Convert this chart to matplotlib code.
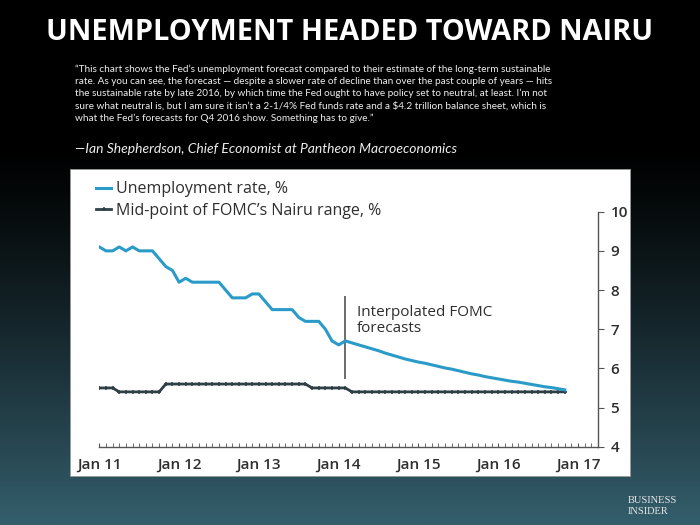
import numpy as np
import matplotlib
matplotlib.use("Agg")
import matplotlib.pyplot as plt
from matplotlib.patches import Rectangle

# monthly unemployment rate, Jan 2011 .. Jan 2014 actual, then interpolated FOMC path to Nov 2016
unemp = [9.1, 9.0, 9.0, 9.1, 9.0, 9.1, 9.0, 9.0, 9.0, 8.8, 8.6, 8.5,
         8.2, 8.3, 8.2, 8.2, 8.2, 8.2, 8.2, 8.0, 7.8, 7.8, 7.8, 7.9,
         7.9, 7.7, 7.5, 7.5, 7.5, 7.5, 7.3, 7.2, 7.2, 7.2, 7.0, 6.7,
         6.6, 6.70, 6.65, 6.60, 6.55, 6.50, 6.45, 6.39, 6.34, 6.29, 6.24, 6.20,
         6.16, 6.13, 6.09, 6.05, 6.01, 5.98, 5.94, 5.90, 5.86, 5.83, 5.79, 5.76,
         5.73, 5.70, 5.67, 5.65, 5.62, 5.59, 5.56, 5.53, 5.51, 5.48, 5.45]

# mid-point of FOMC's Nairu range, same months
nairu = [5.5, 5.5, 5.5, 5.4, 5.4, 5.4, 5.4, 5.4, 5.4, 5.4, 5.6, 5.6,
         5.6, 5.6, 5.6, 5.6, 5.6, 5.6, 5.6, 5.6, 5.6, 5.6, 5.6, 5.6,
         5.6, 5.6, 5.6, 5.6, 5.6, 5.6, 5.6, 5.6, 5.5, 5.5, 5.5, 5.5,
         5.5, 5.5, 5.4, 5.4, 5.4, 5.4, 5.4, 5.4, 5.4, 5.4, 5.4, 5.4,
         5.4, 5.4, 5.4, 5.4, 5.4, 5.4, 5.4, 5.4, 5.4, 5.4, 5.4, 5.4,
         5.4, 5.4, 5.4, 5.4, 5.4, 5.4, 5.4, 5.4, 5.4, 5.4, 5.4]

xlabels = ["Jan 11", "Jan 12", "Jan 13", "Jan 14", "Jan 15", "Jan 16", "Jan 17"]
forecast_start = 37  # Feb 14

quote = ("\u201cThis chart shows the Fed\u2019s unemployment forecast compared to their estimate of the long-term sustainable\n"
         "rate. As you can see, the forecast \u2014 despite a slower rate of decline than over the past couple of years \u2014 hits\n"
         "the sustainable rate by late 2016, by which time the Fed ought to have policy set to neutral, at least. I\u2019m not\n"
         "sure what neutral is, but I am sure it isn\u2019t a 2-1/4% Fed funds rate and a $4.2 trillion balance sheet, which is\n"
         "what the Fed\u2019s forecasts for Q4 2016 show. Something has to give.\u201d")
source = "\u2014Ian Shepherdson, Chief Economist at Pantheon Macroeconomics"

W, H = 700, 525
fig = plt.figure(figsize=(7, 5.25), dpi=100)

# slide background gradient
bg = fig.add_axes([0, 0, 1, 1])
t = np.linspace(0, 1, 256)
g = np.clip((t - 0.28) / 0.72, 0, 1) ** 1.2
top = np.array([0, 0, 0])
bot = np.array([52, 94, 108]) / 255
grad = top[None, :] * (1 - g[:, None]) + bot[None, :] * g[:, None]
bg.imshow(grad[:, None, :], aspect="auto", extent=[0, 1, 1, 0])
bg.set_xlim(0, 1)
bg.set_ylim(1, 0)
bg.axis("off")

# white chart panel
bg.add_patch(Rectangle((70 / W, 169 / H), 560 / W, 307 / H, facecolor="white",
                       edgecolor="#999999", lw=0.6, zorder=3))

fig.text(0.5, 1 - 33 / H, "UNEMPLOYMENT HEADED TOWARD NAIRU", ha="center", va="center",
         color="white", fontsize=20.8, fontweight="bold", fontname="Open Sans")
fig.text(75 / W, 1 - 64.5 / H, quote, ha="left", va="top", color="#eeeeee",
         fontsize=7.2, fontname="Lato", linespacing=1.42)
fig.text(75 / W, 1 - 149 / H, source, ha="left", va="center", color="#eeeeee",
         fontsize=10, fontname="Lato", style="italic")

fig.text(628 / W, 1 - 506 / H, "BUSINESS\nINSIDER", ha="left", va="center", color="#e8e8e8",
         fontsize=7.5, fontname="Liberation Serif", linespacing=1.25)

# chart
ax = fig.add_axes([99.3 / W, 1 - 446.7 / H, (598 - 99.3) / W, (446.7 - 211.7) / H])
ax.patch.set_alpha(0)
x = np.arange(len(unemp))
txt = "#2e2e2e"

ax.plot(x, unemp, color="#2a9bc8", lw=2.2, label="Unemployment rate, %", zorder=3)
ax.plot(x, nairu, color="#2f3f46", lw=2.0, marker="+", ms=3.5, mew=1.1,
        label="Mid-point of FOMC\u2019s Nairu range, %", zorder=2)

ax.vlines(forecast_start, 5.72, 7.86, color="#444444", lw=1.1)
ax.text(forecast_start + 1.8, 7.62, "Interpolated FOMC\nforecasts", ha="left", va="top",
        fontsize=11, color=txt, fontname="Open Sans", fontweight="medium", linespacing=1.1)

ax.set_xlim(0, 75)
ax.set_ylim(4, 10)
ax.set_xticks(np.arange(0, 73, 12))
ax.set_xticklabels(xlabels)
ax.set_xticks(np.arange(0, 76, 1), minor=True)
ax.set_yticks(np.arange(4, 11, 1))

for s in ["top", "left"]:
    ax.spines[s].set_visible(False)
for s in ["bottom", "right"]:
    ax.spines[s].set_color("#555555")
    ax.spines[s].set_linewidth(1.0)

ax.yaxis.tick_right()
ax.tick_params(axis="y", direction="out", length=4, color="#555555", labelsize=11,
               labelcolor=txt, pad=5)
ax.tick_params(axis="x", which="both", direction="in", length=3, color="#555555",
               labelsize=11, labelcolor=txt, pad=8)
for lab in ax.get_xticklabels() + ax.get_yticklabels():
    lab.set_fontname("Open Sans")
    lab.set_fontweight("semibold")

ax.legend(loc="upper left", bbox_to_anchor=(90 / W, 1 - 175 / H), bbox_transform=fig.transFigure,
          frameon=False, handlelength=0.9, handletextpad=0.35, labelspacing=0.35,
          prop={"family": "Open Sans", "size": 11.5, "weight": "medium"},
          labelcolor=txt, borderaxespad=0)

fig.savefig("out.png", dpi=100, facecolor="black")
